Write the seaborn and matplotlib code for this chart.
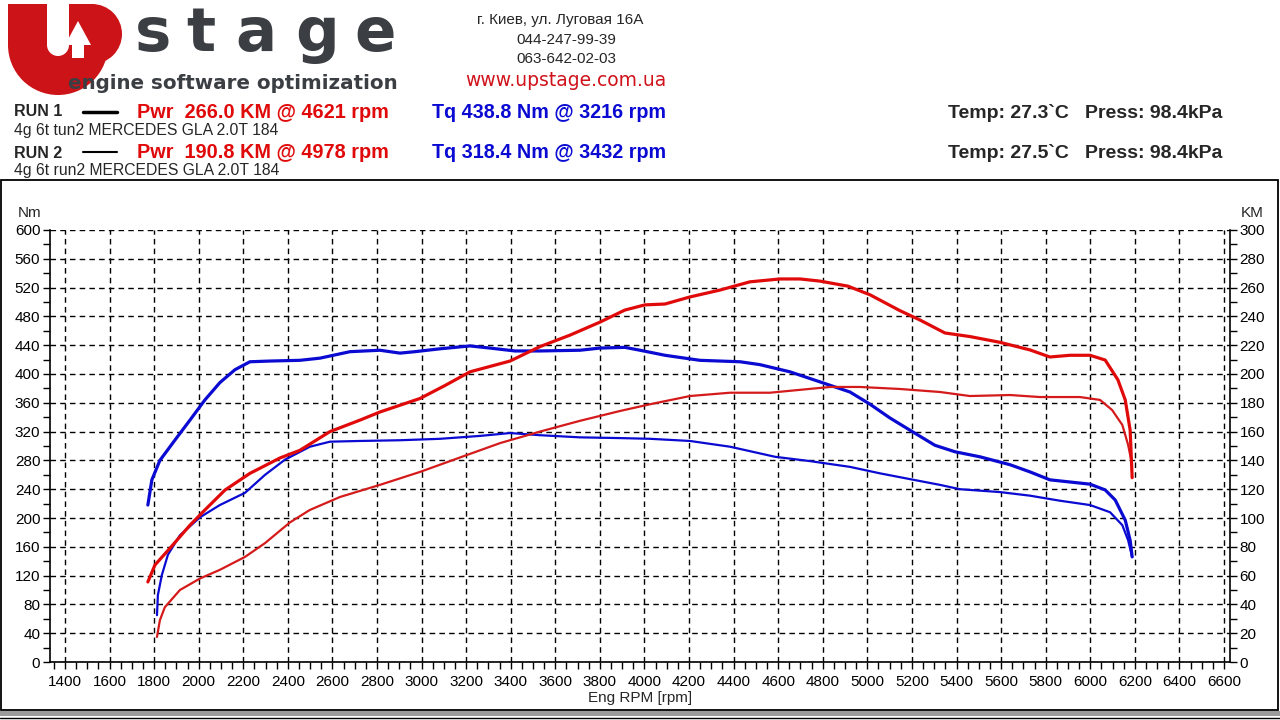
import numpy as np
import pandas as pd
import matplotlib.pyplot as plt
import seaborn as sns
from matplotlib.patches import Rectangle, Wedge, Polygon
from matplotlib.ticker import MultipleLocator

# run 1 (tuned) torque, Nm
rpm_tq1 = [1772, 1790, 1826, 1893, 1961, 2028, 2095, 2163, 2230, 2320, 2454, 2544, 2679, 2813,
           2903, 2970, 3083, 3217, 3307, 3419, 3531, 3711, 3800, 3912, 3980, 4092, 4249, 4429,
           4518, 4653, 4788, 4922, 5012, 5101, 5191, 5303, 5393, 5505, 5640, 5730, 5819, 5909,
           5999, 6067, 6112, 6157, 6179, 6188]
tq1 = [218, 253, 280, 308, 336, 364, 388, 406, 417, 418, 419, 422, 431, 433,
       429, 431, 435, 439, 436, 432, 432, 433, 436, 437, 433, 426, 419, 417,
       413, 403, 389, 375, 358, 339, 322, 301, 292, 285, 274, 264, 253, 250,
       247, 239, 225, 197, 169, 146]

# run 1 power, KM
rpm_pw1 = [1772, 1804, 1871, 1961, 2028, 2118, 2230, 2365, 2454, 2589, 2724, 2813, 2993, 3105,
           3217, 3397, 3531, 3666, 3800, 3912, 4002, 4092, 4204, 4339, 4473, 4608, 4698, 4788,
           4913, 5012, 5146, 5236, 5348, 5460, 5595, 5730, 5819, 5909, 5999, 6067, 6124, 6157,
           6179, 6188]
pw1 = [55.6, 67.4, 79.0, 95.0, 105.6, 119.4, 131.0, 141.7, 147.0, 160.0, 168.0, 173.6, 183.0, 192.0,
       201.5, 209.0, 219.0, 227.0, 236.0, 244.4, 248.0, 248.6, 253.5, 258.3, 264.0, 266.0, 266.0, 264.5,
       261.0, 255.0, 244.0, 237.5, 228.5, 226.0, 222.0, 216.7, 211.8, 213.0, 213.0, 209.7, 196.0, 182.0,
       161.0, 128.0]

# run 2 (stock) torque, Nm
rpm_tq2 = [1813, 1817, 1835, 1862, 1916, 2006, 2095, 2208, 2298, 2387, 2499, 2589, 2724, 2903,
           3083, 3262, 3397, 3531, 3711, 3890, 4025, 4204, 4384, 4586, 4743, 4922, 5057, 5191,
           5326, 5415, 5595, 5730, 5864, 5999, 6089, 6144, 6170, 6188]
tq2 = [65, 93, 121, 149, 176, 201, 218, 235, 260, 281, 299, 306, 307, 308,
       310, 314, 318, 315, 312, 311, 310, 307, 299, 285, 279, 271, 262, 254,
       246, 240, 236, 231, 224, 218, 208, 190, 169, 146]

# run 2 power, KM
rpm_pw2 = [1813, 1826, 1848, 1916, 2006, 2095, 2208, 2298, 2410, 2499, 2634, 2813, 2993, 3172,
           3352, 3531, 3711, 3890, 4025, 4204, 4384, 4563, 4698, 4833, 4967, 5146, 5326, 5460,
           5640, 5774, 5954, 6044, 6098, 6144, 6170, 6184]
pw2 = [17.4, 29.0, 38.0, 50.0, 58.0, 64.0, 73.0, 82.6, 97.0, 105.6, 114.6, 123.0, 132.0, 142.0,
       152.0, 160.0, 167.5, 174.3, 179.0, 184.7, 187.0, 187.0, 189.0, 191.0, 191.0, 189.6, 187.5, 184.7,
       185.4, 184.0, 184.0, 182.0, 175.0, 164.6, 150.7, 140.0]

RED = '#e10a0a'
RED_THIN = '#d41a1a'
BLUE = '#0a0ad2'
DARK = '#3b3e43'

sns.set_theme(style='white')
plt.rcParams['font.family'] = ['Liberation Sans', 'DejaVu Sans']

fig = plt.figure(figsize=(12.8, 7.2), dpi=100)
fig.patch.set_facecolor('white')

# decoration layer in pixel coords
deco = fig.add_axes([0, 0, 1, 1], zorder=-1)
deco.set_xlim(0, 1280)
deco.set_ylim(720, 0)
deco.axis('off')
deco.add_patch(Rectangle((1, 180), 1277, 530, fill=False, ec='black', lw=1.3))
deco.add_patch(Rectangle((0, 711), 1280, 5, color='#9c9c9c', lw=0))
deco.plot([0, 1280], [717.5, 717.5], color='black', lw=1)

# logo (U with arrow)
LOGO_RED = '#cc1418'
deco.add_patch(Rectangle((8, 4), 39, 42, color=LOGO_RED, lw=0))
deco.add_patch(Wedge((58, 45), 50, 0, 180, width=39, color=LOGO_RED, lw=0))
deco.add_patch(Rectangle((69, 4), 25, 42, color=LOGO_RED, lw=0))
deco.add_patch(Wedge((92, 34), 30, -90, 90, color=LOGO_RED, lw=0))
deco.add_patch(Polygon([(65, 45), (78, 21), (91, 45), (84, 45), (84, 58), (72, 58), (72, 45)],
                       closed=True, color='white', lw=0))
for ch, cx in zip('stage', [153, 201, 256, 317, 375]):
    fig.text(cx / 1280, 1 - 51 / 720, ch, fontsize=44, fontweight='bold', color=DARK,
             ha='center', va='baseline', family='DejaVu Sans')
fig.text(68 / 1280, 1 - 89 / 720, 'engine software optimization', fontsize=14.3,
         fontweight='bold', color=DARK, ha='left', va='baseline', family='DejaVu Sans')

# address block
fig.text(560 / 1280, 1 - 20 / 720, 'г. Киев, ул. Луговая 16А', fontsize=11, ha='center', va='center')
fig.text(566 / 1280, 1 - 40 / 720, '044-247-99-39', fontsize=11, ha='center', va='center')
fig.text(566 / 1280, 1 - 59 / 720, '063-642-02-03', fontsize=11, ha='center', va='center')
fig.text(566 / 1280, 1 - 80 / 720, 'www.upstage.com.ua', fontsize=13.5, color='#d0121b',
         ha='center', va='center', family='DejaVu Sans')

# run info
fig.text(14 / 1280, 1 - 112 / 720, 'RUN 1', fontsize=11.5, fontweight='bold', va='center')
deco.plot([83, 117], [112, 112], color='black', lw=2.5)
fig.text(137 / 1280, 1 - 112 / 720, 'Pwr  266.0 KM @ 4621 rpm', fontsize=14.3, fontweight='bold',
         color=RED, va='center')
fig.text(432 / 1280, 1 - 112 / 720, 'Tq 438.8 Nm @ 3216 rpm', fontsize=14.2, fontweight='bold',
         color=BLUE, va='center')
fig.text(14 / 1280, 1 - 131 / 720, '4g 6t tun2 MERCEDES GLA 2.0T 184', fontsize=11.3, va='center')
fig.text(14 / 1280, 1 - 153 / 720, 'RUN 2', fontsize=11.5, fontweight='bold', va='center')
deco.plot([83, 117], [152, 152], color='black', lw=1.5)
fig.text(137 / 1280, 1 - 152 / 720, 'Pwr  190.8 KM @ 4978 rpm', fontsize=14.3, fontweight='bold',
         color=RED, va='center')
fig.text(432 / 1280, 1 - 152 / 720, 'Tq 318.4 Nm @ 3432 rpm', fontsize=14.2, fontweight='bold',
         color=BLUE, va='center')
fig.text(14 / 1280, 1 - 171 / 720, '4g 6t run2 MERCEDES GLA 2.0T 184', fontsize=11.3, va='center')
fig.text(1222 / 1280, 1 - 113 / 720, 'Temp: 27.3`C   Press: 98.4kPa', fontsize=14,
         fontweight='bold', ha='right', va='center')
fig.text(1222 / 1280, 1 - 153 / 720, 'Temp: 27.5`C   Press: 98.4kPa', fontsize=14,
         fontweight='bold', ha='right', va='center')

# main chart
ax = fig.add_axes([50 / 1280, 1 - 662 / 720, 1180 / 1280, 432 / 720])
ax.set_facecolor('none')
ax2 = ax.twinx()

df_tq1 = pd.DataFrame({'rpm': rpm_tq1, 'val': tq1})
df_tq2 = pd.DataFrame({'rpm': rpm_tq2, 'val': tq2})
df_pw1 = pd.DataFrame({'rpm': rpm_pw1, 'val': pw1})
df_pw2 = pd.DataFrame({'rpm': rpm_pw2, 'val': pw2})

sns.lineplot(data=df_tq2, x='rpm', y='val', ax=ax, color=BLUE, lw=1.6, sort=False, estimator=None)
sns.lineplot(data=df_tq1, x='rpm', y='val', ax=ax, color=BLUE, lw=2.3, sort=False, estimator=None)
sns.lineplot(data=df_pw2, x='rpm', y='val', ax=ax2, color=RED_THIN, lw=1.6, sort=False, estimator=None)
sns.lineplot(data=df_pw1, x='rpm', y='val', ax=ax2, color=RED, lw=2.3, sort=False, estimator=None)

ax.set_xlim(1333, 6627)
ax.set_ylim(0, 600)
ax2.set_ylim(0, 300)
ax.xaxis.set_major_locator(MultipleLocator(200))
ax.xaxis.set_minor_locator(MultipleLocator(50))
ax.yaxis.set_major_locator(MultipleLocator(40))
ax.yaxis.set_minor_locator(MultipleLocator(20))
ax2.yaxis.set_major_locator(MultipleLocator(20))
ax2.yaxis.set_minor_locator(MultipleLocator(10))

ax.grid(True, which='major', color='black', linestyle=(0, (4, 3)), lw=1)
ax2.grid(False)
for a in (ax, ax2):
    a.spines['top'].set_visible(False)
    for s in ('left', 'right', 'bottom'):
        a.spines[s].set_color('black')
        a.spines[s].set_linewidth(1.2)
    a.set_xlabel('')
    a.set_ylabel('')
ax.spines['right'].set_visible(False)
ax2.spines['left'].set_visible(False)
ax2.spines['bottom'].set_visible(False)

ax.tick_params(axis='both', which='both', direction='out', length=5, width=1, color='black',
               labelsize=11, labelcolor='black', pad=2)
ax.tick_params(axis='x', which='both', bottom=True, pad=4)
ax.tick_params(axis='y', which='both', left=True)
ax2.tick_params(axis='y', which='both', direction='out', length=5, width=1, color='black',
                labelsize=11, labelcolor='black', right=True, pad=2)

ax.set_xlabel('Eng RPM [rpm]', fontsize=11, labelpad=2)
fig.text(18 / 1280, 1 - 213 / 720, 'Nm', fontsize=11, va='center')
fig.text(1241 / 1280, 1 - 213 / 720, 'KM', fontsize=11, va='center')

fig.savefig('out.png', dpi=100, facecolor='white')
